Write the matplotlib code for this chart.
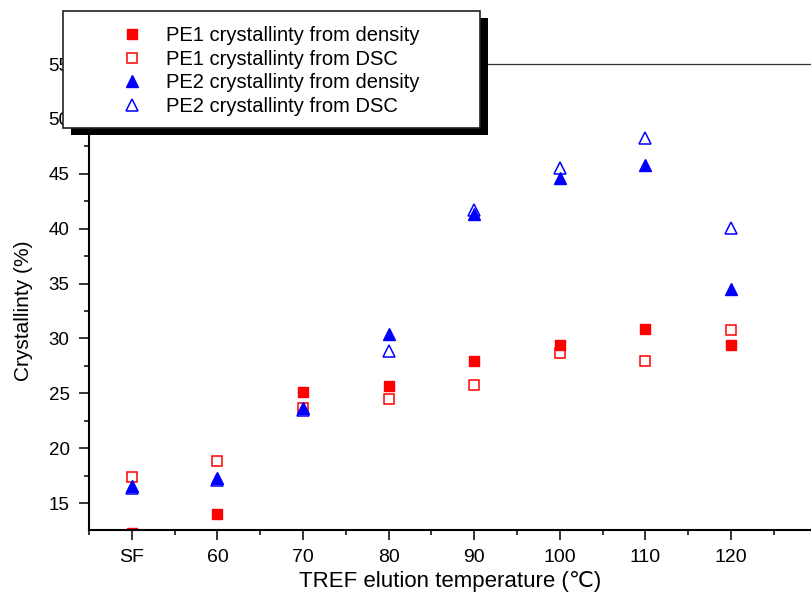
import matplotlib
matplotlib.use('Agg')
import matplotlib.pyplot as plt
from matplotlib.patches import Rectangle
from matplotlib.ticker import MultipleLocator, FixedLocator

temps = [50, 60, 70, 80, 90, 100, 110, 120]
tick_labels = ['SF', '60', '70', '80', '90', '100', '110', '120']
pe1_density = [12.3, 14.0, 25.1, 25.7, 27.9, 29.4, 30.9, 29.4]
pe1_dsc = [17.4, 18.8, 23.7, 24.5, 25.8, 28.7, 27.9, 30.8]
pe2_density = [16.6, 17.3, 23.7, 30.4, 41.3, 44.6, 45.8, 34.5]
pe2_dsc = [16.35, 17.1, 23.45, 28.9, 41.7, 45.5, 48.3, 40.1]
labels = ['PE1 crystallinty from density', 'PE1 crystallinty from DSC',
          'PE2 crystallinty from density', 'PE2 crystallinty from DSC']

plt.rcParams['font.family'] = ['Liberation Sans', 'DejaVu Sans']

W, H = 811, 600
fig = plt.figure(figsize=(W / 100, H / 100), dpi=100)
ax = fig.add_axes([89 / W, 1 - 530 / H, (W - 89) / W, (530 - 64) / H])

RED = '#ff0000'
BLUE = '#0000ff'
h1, = ax.plot(temps, pe1_density, ls='none', marker='s', ms=6.8, mfc=RED, mec=RED, mew=1.0)
h2, = ax.plot(temps, pe1_dsc, ls='none', marker='s', ms=6.6, mfc='none', mec=RED, mew=1.1)
h3, = ax.plot(temps, pe2_density, ls='none', marker='^', ms=9, mfc=BLUE, mec=BLUE, mew=1.0)
h4, = ax.plot(temps, pe2_dsc, ls='none', marker='^', ms=8.8, mfc='none', mec=BLUE, mew=1.1)

ax.set_xlim(45, 129.35)
ax.set_ylim(12.55, 55.0)
ax.xaxis.set_major_locator(FixedLocator(temps))
ax.set_xticklabels(tick_labels)
ax.xaxis.set_minor_locator(MultipleLocator(5))
ax.yaxis.set_major_locator(MultipleLocator(5))
ax.yaxis.set_minor_locator(MultipleLocator(2.5))

ax.tick_params(axis='both', which='major', direction='out', length=7.5, width=1.1, color='black')
ax.tick_params(axis='both', which='minor', direction='out', length=3.5, width=1.1, color='black')
ax.tick_params(axis='x', which='major', labelsize=14, pad=6)
ax.tick_params(axis='y', which='major', labelsize=13.5, pad=6.5)
ax.tick_params(top=False, right=False, which='both')

for s in ['left', 'bottom']:
    ax.spines[s].set_linewidth(1.5)
    ax.spines[s].set_color('black')
ax.spines['right'].set_visible(False)
ax.spines['top'].set_linewidth(0.9)
ax.spines['top'].set_color('#333333')

ax.set_xlabel('TREF elution temperature (\u2103)', fontsize=16)
ax.xaxis.set_label_coords(0.5, -0.088)
ax.set_ylabel('Crystallinty (%)', fontsize=15)
ax.yaxis.set_label_coords(-0.0776, 0.47)

# legend box with shadow
shadow = Rectangle((71 / W, 1 - 135 / H), (488 - 71) / W, (135 - 18) / H,
                   transform=fig.transFigure, facecolor='black', edgecolor='black',
                   lw=0, zorder=5)
box = Rectangle((63 / W, 1 - 127.5 / H), (480 - 63) / W, (127.5 - 11) / H,
                transform=fig.transFigure, facecolor='white', edgecolor='#222222',
                lw=1.2, zorder=6)
fig.patches.extend([shadow, box])

leg = fig.legend([h1, h2, h3, h4], labels, loc='upper left',
                 bbox_to_anchor=(122 / W, 1 - 26 / H), bbox_transform=fig.transFigure,
                 frameon=False, fontsize=14.5, borderpad=0, borderaxespad=0,
                 handlelength=1.0, handletextpad=1.18, labelspacing=0.23)
leg.set_zorder(7)

fig.savefig('out.png', dpi=100)
